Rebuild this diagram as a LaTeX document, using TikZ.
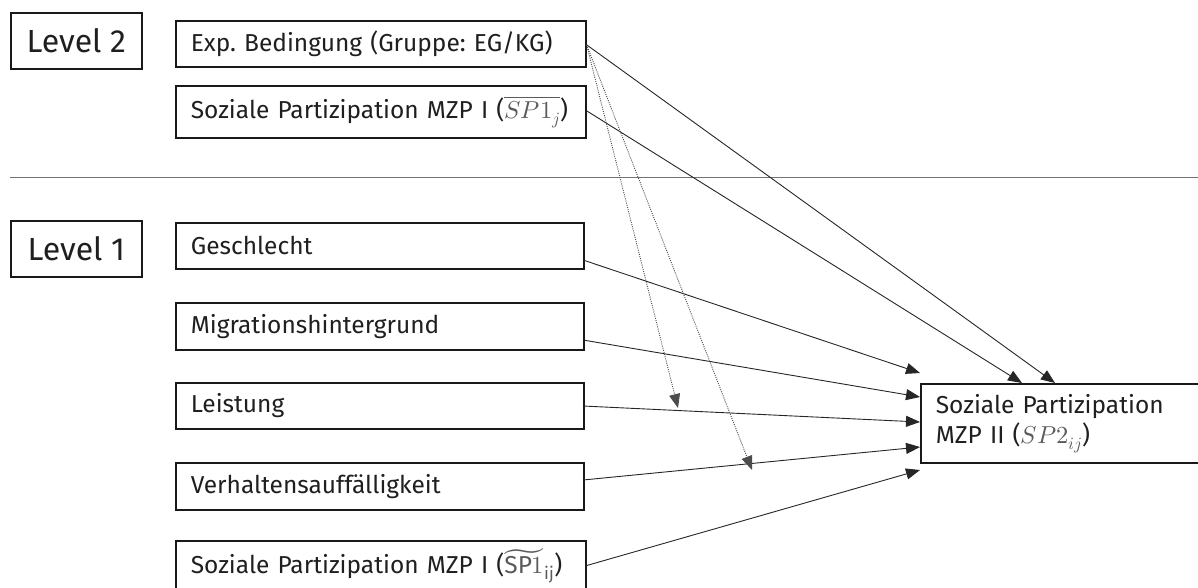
\documentclass[tikz,border=0pt]{standalone}
\usepackage{unicode-math}
\setmainfont{Fira Sans}
\setmathfont{Latin Modern Math}
\usetikzlibrary{arrows.meta}
\definecolor{mathgray}{HTML}{5A5A5A}
\newcommand{\mg}[1]{\textcolor{mathgray}{$#1$}}
\frenchspacing
\begin{document}
\begin{tikzpicture}[x=1pt,y=-1pt,
  every node/.style={font=\fontsize{24.5}{30}\selectfont, text=black!88},
  box/.style={draw=black!90, line width=1.6pt, inner xsep=15pt, inner ysep=0pt, anchor=north west, minimum height=46pt, text width=380pt, align=left},
  lvl/.style={draw=black!90, line width=1.6pt, anchor=north west, minimum width=131pt, minimum height=56pt, inner sep=0pt, font=\fontsize{32}{38}\selectfont},
  conn/.style={draw=black!85, line width=0.9pt, -{Triangle[length=14pt,width=11pt]}},
  dot/.style={draw=black!70, line width=0.9pt, dash pattern=on 1pt off 1.2pt, -{Triangle[length=14pt,width=11pt]}}
]
\useasboundingbox (0,0) rectangle (1198,587);
\node[lvl] (l2) at (10,12) {Level 2};
\node[lvl] (l1) at (10,220) {Level 1};
\coordinate (sepL) at (10,177);
\coordinate (sepR) at (1198,177);
\draw[black!55, line width=1pt] (sepL) -- (sepR);

\node[box] (exp) at (175,20) {Exp. Bedingung (Gruppe: EG/KG)};
\node[box, minimum height=52pt] (sp1j) at (175,85) {Soziale Partizipation MZP I (\mg{\overline{SP1_j}})};
\node[box, text width=378pt] (ges) at (175,222) {Geschlecht};
\node[box, minimum height=47pt, text width=378pt] (mig) at (175,302) {Migrationshintergrund};
\node[box, text width=378pt] (lei) at (175,382) {Leistung};
\node[box, minimum height=47pt, text width=378pt] (ver) at (175,462) {Verhaltensauffälligkeit};
\node[box, minimum height=50pt] (sp1ij) at (175,540) {Soziale Partizipation MZP I (\mg{\widetilde{\mathrm{SP}1}_{\mathrm{ij}}})};

\node[draw=black!90, line width=1.6pt, anchor=north west, minimum width=278pt, minimum height=79pt, text width=248pt, inner xsep=15pt, align=left] (sp2) at (920,383) {Soziale Partizipation\\MZP II (\mg{SP2_{ij}})};

\coordinate (e1) at (1055,383);
\coordinate (e2) at (1022,383);
\coordinate (d1) at (678,408);
\coordinate (d2) at (752,470);

\draw[conn] (exp.east) ++(0,1) -- (e1);
\draw[conn] (sp1j.east) ++(0,-1) -- (e2);
\draw[conn] (583,260) -- (sp2.west |- 0,373);
\draw[conn] (583,340) -- (sp2.west |- 0,397);
\draw[conn] (583,406) -- (sp2.west |- 0,422);
\draw[conn] (583,480) -- (sp2.west |- 0,447);
\draw[conn] (585,566) -- (sp2.west |- 0,470);
\draw[dot] (exp.east) ++(0,1) -- (d1);
\draw[dot] (exp.east) ++(0,1) -- (d2);
\end{tikzpicture}
\end{document}
